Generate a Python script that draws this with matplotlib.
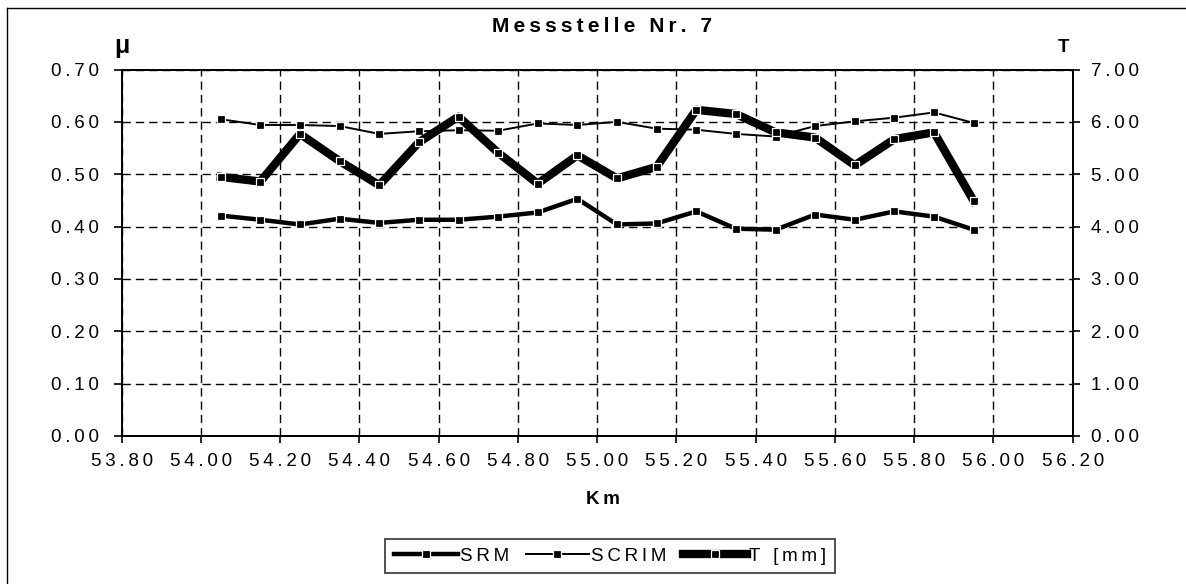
import matplotlib
matplotlib.use('Agg')
import matplotlib.pyplot as plt
from matplotlib.lines import Line2D
from matplotlib.ticker import FuncFormatter, MultipleLocator

plt.rcParams['font.family'] = ['Liberation Sans', 'DejaVu Sans']

# data
km = [54.05, 54.15, 54.25, 54.35, 54.45, 54.55, 54.65, 54.75, 54.85, 54.95,
      55.05, 55.15, 55.25, 55.35, 55.45, 55.55, 55.65, 55.75, 55.85, 55.95]
srm = [0.421, 0.413, 0.404, 0.415, 0.407, 0.413, 0.413, 0.419, 0.427, 0.453,
       0.404, 0.406, 0.429, 0.396, 0.394, 0.423, 0.413, 0.429, 0.419, 0.394]
scrim = [0.605, 0.594, 0.594, 0.592, 0.577, 0.582, 0.584, 0.583, 0.597, 0.594,
         0.600, 0.587, 0.585, 0.577, 0.572, 0.592, 0.601, 0.608, 0.618, 0.598]
t_mm = [4.95, 4.86, 5.77, 5.25, 4.79, 5.61, 6.10, 5.41, 4.82, 5.36,
        4.92, 5.14, 6.23, 6.15, 5.80, 5.70, 5.17, 5.67, 5.80, 4.49]

title = 'Messstelle Nr. 7'
labels = ['SRM', 'SCRIM', 'T [mm]']

W, H = 1186, 584
TS = '\u2009'  # thin space, to get the wide letter spacing of the original


def spaced(s):
    return TS.join(s)


fig = plt.figure(figsize=(W / 100, H / 100), dpi=100)
ax = fig.add_axes([121.7 / W, 1 - 436 / H, (1072.7 - 121.7) / W, (436 - 69.5) / H])
ax2 = ax.twinx()

fmt = FuncFormatter(lambda v, p: spaced('%.2f' % v))

ax.set_xlim(53.8, 56.2)
ax.set_ylim(0, 0.7)
ax2.set_ylim(0, 7)
ax.xaxis.set_major_locator(MultipleLocator(0.2))
ax.yaxis.set_major_locator(MultipleLocator(0.1))
ax2.yaxis.set_major_locator(MultipleLocator(1))
ax.xaxis.set_major_formatter(fmt)
ax.yaxis.set_major_formatter(fmt)
ax2.yaxis.set_major_formatter(fmt)

ax.grid(True, color='black', lw=1, linestyle=(0, (6, 3.6)))
ax.set_axisbelow(True)

mk = dict(marker='s', markersize=5.5, markerfacecolor='black',
          markeredgecolor='white', markeredgewidth=0.9)
l1, = ax.plot(km, srm, color='black', lw=3.2, label=spaced(labels[0]), **mk)
l2, = ax.plot(km, scrim, color='black', lw=1.4, label=spaced(labels[1]), **mk)
l3, = ax2.plot(km, t_mm, color='black', lw=6, label=spaced(labels[2]), **mk)

for a in (ax, ax2):
    for s in a.spines.values():
        s.set_linewidth(1.3)
ax.tick_params(axis='x', direction='out', length=5, width=1.2, pad=7.5, labelsize=13.5)
ax.tick_params(axis='y', direction='out', length=6, width=1.2, pad=10.5, labelsize=13.5)
ax2.tick_params(axis='y', direction='out', length=5, width=1.2, pad=8.5, labelsize=13.5)

fig.text(602 / W, 1 - 26 / H, spaced(title), ha='center', va='center',
         fontsize=15, fontweight='bold')
fig.text(603 / W, 1 - 499 / H, spaced('Km'), ha='center', va='center',
         fontsize=13.5, fontweight='bold')
fig.text(122 / W, 1 - 46 / H, '\u03bc', ha='center', va='center',
         fontsize=18, fontweight='bold')
fig.text(1063 / W, 1 - 47 / H, 'T', ha='center', va='center',
         fontsize=13.5, fontweight='bold')

leg = fig.legend(handles=[l1, l2, l3], loc='center', ncol=3,
                 bbox_to_anchor=(610 / W, 1 - 556 / H), fontsize=13.5,
                 frameon=True, fancybox=False, edgecolor='black',
                 handlelength=3.4, handletextpad=0.1, columnspacing=0.9,
                 borderpad=0.45, borderaxespad=0)
leg.get_frame().set_linewidth(1.2)

# outer border of the original (only left and top edges are in the crop)
fig.add_artist(Line2D([7 / W, 7 / W], [0, 1 - 8 / H], color='black', lw=1,
                      transform=fig.transFigure))
fig.add_artist(Line2D([7 / W, 1], [1 - 8 / H, 1 - 8 / H], color='black', lw=1,
                      transform=fig.transFigure))

fig.savefig('out.png', dpi=100)
